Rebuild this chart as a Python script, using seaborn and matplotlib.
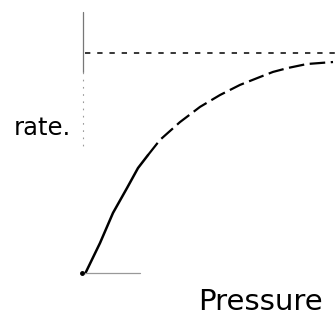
import matplotlib
matplotlib.use("Agg")
import matplotlib.pyplot as plt
import seaborn as sns
import pandas as pd

# Rate vs pressure saturation curve (sketch)
pressure = [0.1, 0.68, 1.2, 1.76, 2.2, 2.6, 3.08, 3.88, 4.68, 5.48, 6.28,
            7.08, 7.6, 8.2, 8.96, 10.0]
rate = [0.0, 0.136, 0.273, 0.386, 0.477, 0.536, 0.605, 0.686, 0.755, 0.809,
        0.855, 0.891, 0.914, 0.932, 0.95, 0.959]
rate_max = 1.0

df = pd.DataFrame({"pressure": pressure, "rate": rate})
lower = df[df["pressure"] <= 2.6]
upper = df[df["pressure"] >= 2.6]

sns.set_style("white")
fig = plt.figure(figsize=(3.35, 3.22), dpi=100)
ax = fig.add_axes([0, 0, 1, 1])

sns.lineplot(data=lower, x="pressure", y="rate", ax=ax, color="black",
             lw=1.8, sort=False)
sns.lineplot(data=upper, x="pressure", y="rate", ax=ax, color="black",
             lw=1.6, sort=False, linestyle=(0, (7, 2.5)))

# asymptote
ax.plot([0.08, 10.1], [rate_max, rate_max], color="black", lw=1.1,
        linestyle=(0, (3.5, 4.5)))

# faint hand-drawn axes
ax.plot([0, 0], [1.186, 0.914], color="#777777", lw=0.9)
ax.plot([0, 0], [0.914, 0.573], color="#999999", lw=0.8, linestyle=(0, (1.5, 5)))
ax.plot([0.1, 2.28], [0, 0], color="#999999", lw=0.9)
ax.plot([-0.02], [0.0], marker="o", ms=2.5, color="black")

ax.text(-1.64, 0.66, "rate.", fontsize=17.5, ha="center", va="center",
        color="black", family="DejaVu Sans")
ax.text(7.08, -0.13, "Pressure", fontsize=21, ha="center", va="center",
        color="black", family="DejaVu Sans")

ax.set_xlim(-3.32, 10.08)
ax.set_ylim(-0.223, 1.241)
ax.set_axis_off()

fig.savefig("out.png", dpi=100)
